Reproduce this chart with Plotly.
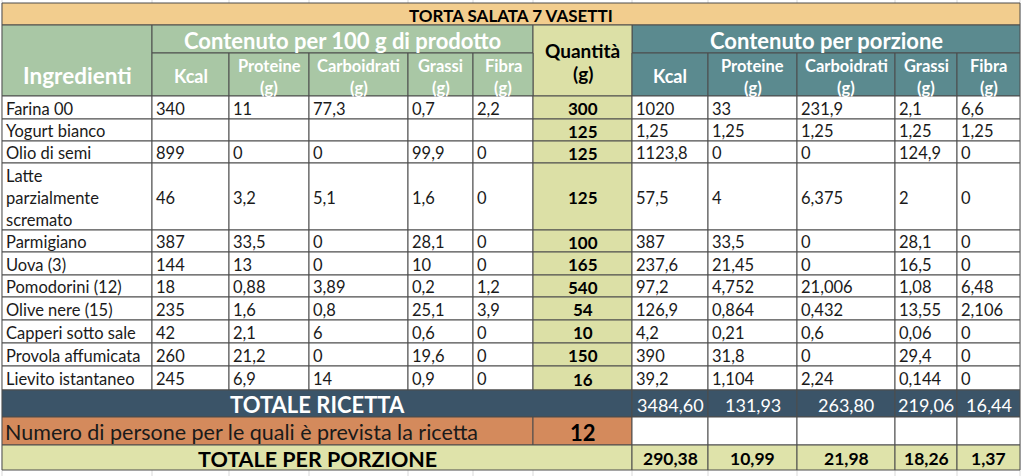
import plotly.graph_objects as go

# ---- data ----
titolo = "TORTA SALATA 7 VASETTI"
ingredienti = ["Farina 00", "Yogurt bianco", "Olio di semi", "Latte\nparzialmente\nscremato",
               "Parmigiano", "Uova (3)", "Pomodorini (12)", "Olive nere (15)",
               "Capperi sotto sale", "Provola affumicata", "Lievito istantaneo"]
intestazioni_nutr = ["Kcal", "Proteine\n(g)", "Carboidrati\n(g)", "Grassi\n(g)", "Fibra\n(g)"]

kcal_100 = [340, None, 899, 46, 387, 144, 18, 235, 42, 260, 245]
prot_100 = [11, None, 0, 3.2, 33.5, 13, 0.88, 1.6, 2.1, 21.2, 6.9]
carb_100 = [77.3, None, 0, 5.1, 0, 0, 3.89, 0.8, 6, 0, 14]
grassi_100 = [0.7, None, 99.9, 1.6, 28.1, 10, 0.2, 25.1, 0.6, 19.6, 0.9]
fibra_100 = [2.2, None, 0, 0, 0, 0, 1.2, 3.9, 0, 0, 0]

quantita = [300, 125, 125, 125, 100, 165, 540, 54, 10, 150, 16]

kcal_por = [1020, 1.25, 1123.8, 57.5, 387, 237.6, 97.2, 126.9, 4.2, 390, 39.2]
prot_por = [33, 1.25, 0, 4, 33.5, 21.45, 4.752, 0.864, 0.21, 31.8, 1.104]
carb_por = [231.9, 1.25, 0, 6.375, 0, 0, 21.006, 0.432, 0.6, 0, 2.24]
grassi_por = [2.1, 1.25, 124.9, 2, 28.1, 16.5, 1.08, 13.55, 0.06, 29.4, 0.144]
fibra_por = [6.6, 1.25, 0, 0, 0, 0, 6.48, 2.106, 0, 0, 0]

totale_ricetta = [3484.60, 131.93, 263.80, 219.06, 16.44]
persone = 12
totale_porzione = [290.38, 10.99, 21.98, 18.26, 1.37]

# ---- layout of the sheet (pixel grid) ----
X = [2, 152, 229, 309, 408, 473, 533, 632, 708, 797, 895, 957, 1020]
ROW_TITLE = (3, 25)
ROW_HEAD1 = (25, 53)
ROW_HEAD2 = (53, 96)
ROWS = [96, 119, 141, 163, 230, 252, 275, 297, 320, 343, 366, 390]
ROW_TOT = (390, 417)
ROW_PERS = (417, 445)
ROW_PORZ = (445, 470)

FONT = "Lato, 'Open Sans', sans-serif"
LINE = "#4d4d4d"
C_TITLE = "#F2CD8E"
C_GREEN = "#A9C7A5"
C_QTY = "#DCE0A6"
C_TEAL = "#5B8A8F"
C_DARK = "#3B5468"
C_ORANGE = "#D48A5C"
C_LIGHT = "#DFE3AA"
DATA_SIZE = 16.5

shapes = []
annotations = []


def cell(x0, x1, y0, y1, fill="white", lw=1):
    shapes.append(dict(type="rect", xref="x", yref="y", x0=x0, x1=x1, y0=y0, y1=y1,
                       fillcolor=fill, line=dict(color=LINE, width=lw), layer="below"))


def label(x, y, s, size=DATA_SIZE, color="#1a1a1a", bold=False, align="left"):
    annotations.append(dict(x=x, y=y, xref="x", yref="y", text=s, showarrow=False,
                            xanchor=align, yanchor="middle",
                            font=dict(family=FONT, size=size, color=color,
                                      weight="bold" if bold else "normal")))


def fmt(v, dec=None):
    if v is None:
        return ""
    if dec is not None:
        return f"{v:.{dec}f}".replace(".", ",")
    return str(v).replace(".", ",")


# faint spreadsheet grid in the background
for x in X:
    shapes.append(dict(type="line", xref="x", yref="y", x0=x, x1=x, y0=0, y1=476,
                       line=dict(color="#d9d9d9", width=1), layer="below"))

# title row
cell(X[0], X[-1], *ROW_TITLE, fill=C_TITLE)
label((X[0] + X[-1]) / 2, sum(ROW_TITLE) / 2 + 1, titolo, size=17, color="black", bold=True, align="center")

# header: ingredienti
cell(X[0], X[1], ROW_HEAD1[0], ROW_HEAD2[1], fill=C_GREEN)
label((X[0] + X[1]) / 2, 75, "Ingredienti", size=22.5, color="white", bold=True, align="center")

# header: per 100 g
cell(X[1], X[6], *ROW_HEAD1, fill=C_GREEN)
label((X[1] + X[6]) / 2, 40, "Contenuto per 100 g di prodotto", size=22, color="white", bold=True, align="center")
# header: per porzione
cell(X[7], X[12], *ROW_HEAD1, fill=C_TEAL)
label((X[7] + X[12]) / 2, 40, "Contenuto per porzione", size=22, color="white", bold=True, align="center")

# header: quantita
cell(X[6], X[7], ROW_HEAD1[0], ROW_HEAD2[1], fill=C_QTY)
label((X[6] + X[7]) / 2, 50, "Quantità", size=19, color="black", bold=True, align="center")
label((X[6] + X[7]) / 2, 73, "(g)", size=19, color="black", bold=True, align="center")

# sub headers
for start, fill in ((1, C_GREEN), (7, C_TEAL)):
    for k, name in enumerate(intestazioni_nutr):
        x0, x1 = X[start + k], X[start + k + 1]
        cell(x0, x1, *ROW_HEAD2, fill=fill)
        parts = name.split("\n")
        if len(parts) == 1:
            label((x0 + x1) / 2, 76, parts[0], size=18, color="white", bold=True, align="center")
        else:
            label((x0 + x1) / 2, 66, parts[0], size=16.5, color="white", bold=True, align="center")
            label((x0 + x1) / 2, 88, parts[1], size=16.5, color="white", bold=True, align="center")

# data rows
per100 = [kcal_100, prot_100, carb_100, grassi_100, fibra_100]
perpor = [kcal_por, prot_por, carb_por, grassi_por, fibra_por]
for i, nome in enumerate(ingredienti):
    y0, y1 = ROWS[i], ROWS[i + 1]
    yc = (y0 + y1) / 2 + 1
    cell(X[0], X[1], y0, y1)
    lines = nome.split("\n")
    for j, ln in enumerate(lines):
        label(X[0] + 2, yc + (j - (len(lines) - 1) / 2) * 22, ln)
    for k in range(5):
        cell(X[1 + k], X[2 + k], y0, y1)
        label(X[1 + k] + 2, yc, fmt(per100[k][i]))
    cell(X[6], X[7], y0, y1, fill=C_QTY)
    label((X[6] + X[7]) / 2, yc, str(quantita[i]), size=17, color="black", bold=True, align="center")
    for k in range(5):
        cell(X[7 + k], X[8 + k], y0, y1)
        label(X[7 + k] + 2, yc, fmt(perpor[k][i]))

# totale ricetta
cell(X[0], X[7], *ROW_TOT, fill=C_DARK)
label((X[0] + X[7]) / 2, sum(ROW_TOT) / 2 + 1, "TOTALE RICETTA", size=22, color="white", bold=True, align="center")
for k, v in enumerate(totale_ricetta):
    cell(X[7 + k], X[8 + k], *ROW_TOT, fill=C_DARK)
    label((X[7 + k] + X[8 + k]) / 2, sum(ROW_TOT) / 2 + 1, fmt(v, 2), size=18, color="white", align="center")

# persone
cell(X[0], X[6], *ROW_PERS, fill=C_ORANGE)
label(X[0] + 1, sum(ROW_PERS) / 2 + 1, "Numero di persone per le quali è prevista la ricetta", size=21.5, color="#1a1a1a")
cell(X[6], X[7], *ROW_PERS, fill=C_ORANGE)
label((X[6] + X[7]) / 2, sum(ROW_PERS) / 2 + 1, str(persone), size=22, color="black", bold=True, align="center")
for k in range(5):
    cell(X[7 + k], X[8 + k], *ROW_PERS)

# totale per porzione
cell(X[0], X[7], *ROW_PORZ, fill=C_LIGHT)
label((X[0] + X[7]) / 2, sum(ROW_PORZ) / 2 + 1, "TOTALE PER PORZIONE", size=21.5, color="black", bold=True, align="center")
for k, v in enumerate(totale_porzione):
    cell(X[7 + k], X[8 + k], *ROW_PORZ, fill=C_LIGHT)
    label((X[7 + k] + X[8 + k]) / 2, sum(ROW_PORZ) / 2 + 1, fmt(v, 2), size=17.5, color="black", bold=True, align="center")

fig = go.Figure()
fig.update_layout(
    width=1024, height=476,
    margin=dict(l=0, r=0, t=0, b=0),
    paper_bgcolor="white", plot_bgcolor="white",
    xaxis=dict(range=[0, 1024], visible=False, fixedrange=True),
    yaxis=dict(range=[476, 0], visible=False, fixedrange=True),
    shapes=shapes, annotations=annotations,
    showlegend=False,
)
fig.write_html("out.html", config={"displayModeBar": False},
               post_script="document.body.style.margin = '0';")
